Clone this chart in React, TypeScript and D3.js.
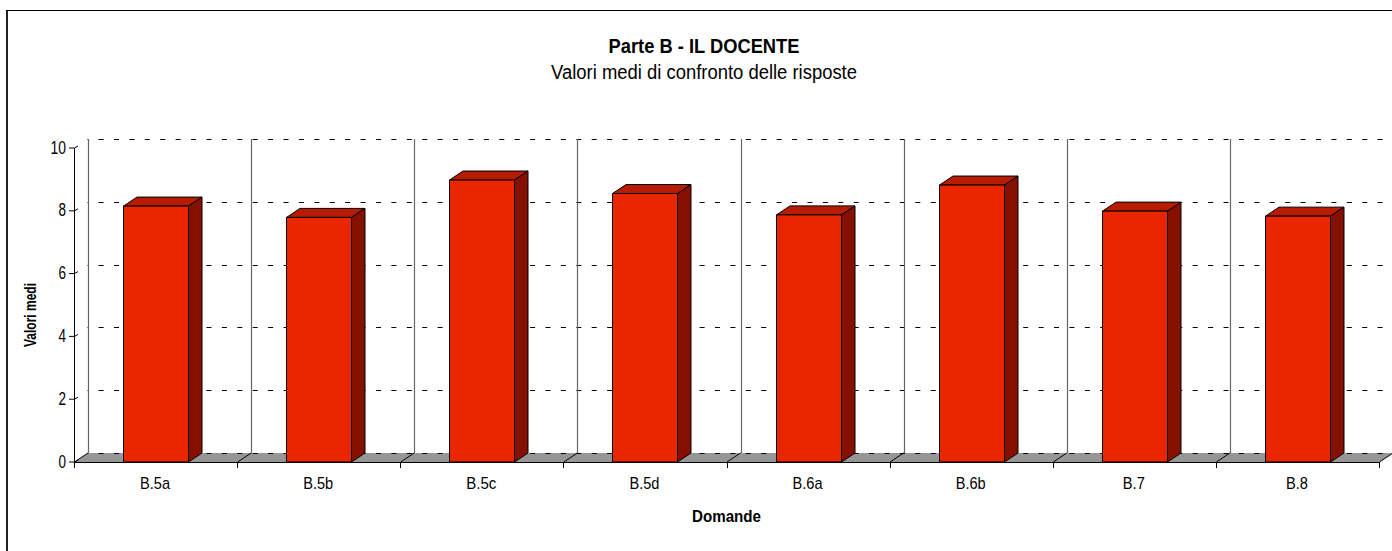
import React from "react";
import * as d3 from "d3";

const categories = ["B.5a", "B.5b", "B.5c", "B.5d", "B.6a", "B.6b", "B.7", "B.8"];
const values = [8.15, 7.79, 8.98, 8.55, 7.87, 8.82, 7.99, 7.83];
const yTicks = [0, 2, 4, 6, 8, 10];
const FONT = "'Liberation Sans', Arial, sans-serif";
const DX = 13.5, DY = -9;

export default function App() {
  const x = d3.scaleBand<string>().domain(categories).range([74.5, 1379.5]).paddingInner(0).paddingOuter(0);
  const y = d3.scaleLinear().domain([0, 10]).range([462, 148]);
  const bw = x.bandwidth();
  const barW = 65;
  const boundaries = d3.range(categories.length + 1).map((i) => 74.5 + i * bw);
  const y0 = y(0);
  const floorPath = (a: number, b: number) =>
    `M${a},${y0}L${a + DX},${y0 + DY}L${b + DX},${y0 + DY}L${b},${y0}Z`;
  return (
    <svg width={1392} height={551} style={{ position: "absolute", left: 0, top: 0, background: "#fff" }} fontFamily={FONT}>
      <line x1={7} x2={7} y1={10} y2={551} stroke="#222" strokeWidth={2} />
      <line x1={6} x2={1392} y1={10.5} y2={10.5} stroke="#000" strokeWidth={1} />
      <text x={704} y={53} textAnchor="middle" fontSize={20} fontWeight="bold" textLength={191} lengthAdjust="spacingAndGlyphs">Parte B - IL DOCENTE</text>
      <text x={704} y={79} textAnchor="middle" fontSize={20} textLength={306} lengthAdjust="spacingAndGlyphs">Valori medi di confronto delle risposte</text>

      {/* floor */}
      <path d={floorPath(boundaries[0], boundaries[8])} fill="#969696" stroke="none" />
      {/* back wall gridlines */}
      {yTicks.map((t) => (
        <line key={t} x1={87.5} x2={1392} y1={Math.round(y(t) + DY) + 0.5} y2={Math.round(y(t) + DY) + 0.5}
          stroke="#000" strokeDasharray="5 10.41" strokeDashoffset={4.3} strokeWidth={1} />
      ))}
      {/* back verticals */}
      {boundaries.slice(0, 8).map((b, i) => (
        <line key={i} x1={Math.round(b + DX) + 0.5} x2={Math.round(b + DX) + 0.5} y1={y(10) + DY} y2={y0 + DY} stroke="#666" strokeWidth={1.2} />
      ))}
      {/* floor slants */}
      {boundaries.map((b, i) => (
        <line key={i} x1={b} x2={b + DX} y1={y0} y2={y0 + DY} stroke="#000" strokeWidth={1} />
      ))}

      {/* bars */}
      {categories.map((c, i) => {
        const cx = x(c)! + bw / 2 - 0.3;
        const l = Math.round(cx - 65.5 / 2) + 0.5;
        const r = l + barW;
        const t = y(values[i]);
        return (
          <g key={c} stroke="#000" strokeWidth={1} strokeLinejoin="round">
            <path d={`M${l},${t}L${l + DX},${t + DY}L${r + DX},${t + DY}L${r},${t}Z`} fill="#b81c00" />
            <path d={`M${r},${t}L${r + DX},${t + DY}L${r + DX},${y0 + DY}L${r},${y0}Z`} fill="#851000" />
            <rect x={l} y={t} width={barW} height={y0 - t} fill="#e92600" />
          </g>
        );
      })}

      {/* axes */}
      <line x1={74.5} x2={74.5} y1={y(10)} y2={y0 + 5} stroke="#000" />
      <line x1={74.5} x2={1379.5} y1={y0 + 0.5} y2={y0 + 0.5} stroke="#000" />
      {yTicks.map((t) => (
        <g key={t}>
          <line x1={69} x2={74.5} y1={y(t)} y2={y(t)} stroke="#000" />
          <line x1={74.5} x2={78} y1={y(t)} y2={y(t) - 2} stroke="#000" />
          <text x={66} y={y(t) + 5.5} textAnchor="end" fontSize={18} textLength={t === 10 ? 15.5 : 7.5} lengthAdjust="spacingAndGlyphs">{t}</text>
        </g>
      ))}
      {boundaries.map((b, i) => (
        <line key={i} x1={Math.round(b - 0.5) + 0.5} x2={Math.round(b - 0.5) + 0.5} y1={y0} y2={y0 + 6} stroke="#000" />
      ))}
      {categories.map((c) => (
        <text key={c} x={x(c)! + bw / 2 - 1} y={488.5} textAnchor="middle" fontSize={17} textLength={c.length === 4 ? 30 : 22} lengthAdjust="spacingAndGlyphs">{c}</text>
      ))}
      <text x={726.5} y={521.5} textAnchor="middle" fontSize={17} fontWeight="bold" textLength={69} lengthAdjust="spacingAndGlyphs">Domande</text>
      <text transform="translate(35.5,315) rotate(-90)" textAnchor="middle" fontSize={17} fontWeight="bold" textLength={64} lengthAdjust="spacingAndGlyphs">Valori medi</text>
    </svg>
  );
}
